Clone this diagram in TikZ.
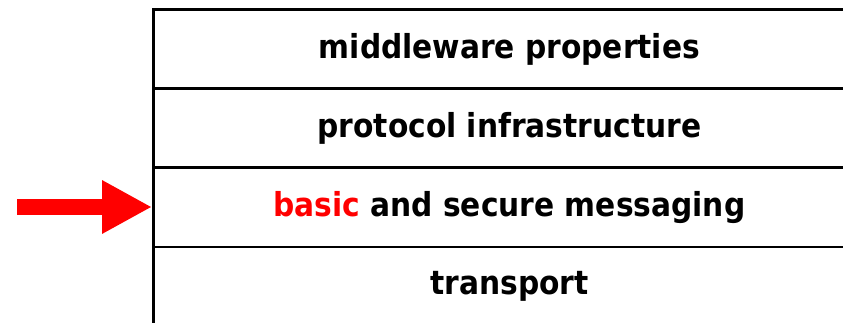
\documentclass[tikz,border=0pt]{standalone}
\usepackage{fontspec}
\setmainfont{DejaVu Sans Condensed}
\usetikzlibrary{arrows.meta}
\definecolor{hotred}{RGB}{255,0,0}
\begin{document}
\begin{tikzpicture}[x=1pt,y=-1pt,
  layer/.style={draw=black, line width=2.8pt, minimum width=712pt, minimum height=79pt,
    inner sep=0pt, anchor=north west, font=\fontsize{33}{40}\selectfont\bfseries},
  pointer/.style={hotred, line width=16.7pt, -{Triangle[length=50pt,width=50pt]}}]
  \useasboundingbox (0,0) rectangle (843,323);
  % protocol stack, top to bottom
  \node[layer] (mw)   at (152,8.5)   {middleware properties};
  \node[layer] (pi)   at (152,87.5)  {protocol infrastructure};
  \node[layer] (msg)  at (152,166.5) {\textcolor{hotred}{basic} and secure messaging};
  \node[layer] (tr)   at (152,245.5) {transport};
  % arrow pointing at the messaging layer
  \coordinate (tail) at (17,207);
  \draw[pointer] (tail) -- (msg.west |- tail);
\end{tikzpicture}
\end{document}
